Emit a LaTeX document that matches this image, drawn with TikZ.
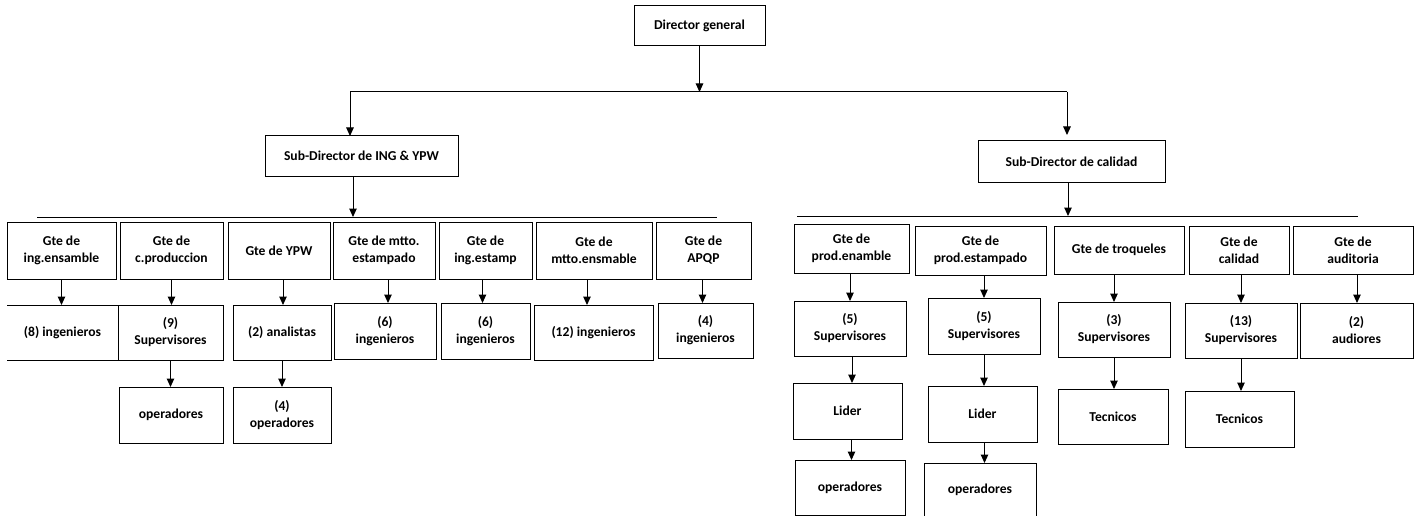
\documentclass[tikz,border=0pt]{standalone}
\usepackage{fontspec}
\setmainfont{Carlito}
\usetikzlibrary{arrows.meta}
\tikzset{
  box/.style={draw, line width=1pt, inner sep=0pt, outer sep=0pt, align=center,
    font=\bfseries\fontsize{13.6}{17}\selectfont},
  arr/.style={line width=1pt, -{Triangle[width=7.5pt,length=8.5pt]}},
  bar/.style={line width=1pt}
}
% \orgbox{name}{x1}{y1}{x2}{y2}{text}: box given by its corners (y measured downwards)
\newcommand\orgbox[7][]{%
  \node[box,#1,minimum width={#5-#3},minimum height={#6-#4}]
    (#2) at ({(#3+#5)/2},{-(#4+#6)/2}) {#7};}
\begin{document}
\begin{tikzpicture}[x=1pt,y=1pt]
\useasboundingbox (0,0) rectangle (1416,-516);

% top levels
\orgbox{DG}{634}{6}{765}{46}{Director general}
\orgbox{SDA}{265}{136}{458}{176}{Sub-Director de ING \& YPW}
\orgbox{SDB}{978}{141}{1165}{182}{Sub-Director de calidad}

\coordinate (jL) at (350,-92);
\coordinate (jR) at (1067,-92);
\draw[arr] (DG.south) -- (DG.south |- jL);
\draw[bar] (jL) -- (jR);
\draw[arr] (jL) -- (jL |- SDA.north);
\draw[arr, shorten >=6pt] (jR) -- (jR |- SDB.north);

% distribution bars
\coordinate (bAL) at (37,-217);
\coordinate (bAR) at (717,-217);
\coordinate (bAs) at (353,-217);
\coordinate (bBL) at (797,-216);
\coordinate (bBR) at (1358,-216);
\coordinate (bBs) at (1068,-216);
\draw[bar] (bAL) -- (bAR);
\draw[bar] (bBL) -- (bBR);
\draw[arr] (bAs |- SDA.south) -- (bAs);
\draw[arr] (bBs |- SDB.south) -- (bBs);

% left branch: managers
\orgbox{L1}{7}{222}{116}{279}{Gte de\\ing.ensamble}
\orgbox{L2}{120}{222}{223}{279}{Gte de\\c.produccion}
\orgbox{L3}{228}{222}{330}{279}{Gte de YPW}
\orgbox{L4}{333}{222}{435}{279}{Gte de mtto.\\estampado}
\orgbox{L5}{439}{222}{532}{279}{Gte de\\ing.estamp}
\orgbox{L6}{536}{222}{652}{279}{Gte de\\mtto.ensmable}
\orgbox{L7}{656}{222}{751}{279}{Gte de\\APQP}

% left branch: staff
\orgbox[draw=none]{M1}{7}{305}{118}{360}{(8) ingenieros}
\draw[bar] (M1.north west) -- (M1.north east);
\draw[bar] (M1.south west) -- (M1.south east);
\orgbox{M2}{118}{305}{223}{360}{(9)\\Supervisores}
\orgbox{M3}{233}{305}{331}{360}{(2) analistas}
\orgbox{M4}{334}{303}{436}{359}{(6)\\ingenieros}
\orgbox{M5}{441}{303}{530}{359}{(6)\\ingenieros}
\orgbox{M6}{534}{305}{653}{360}{(12) ingenieros}
\orgbox{M7}{658}{303}{753}{358}{(4)\\ingenieros}

\orgbox{N2}{119}{387}{223}{443}{operadores}
\orgbox{N3}{233}{387}{331}{443}{(4)\\operadores}

\draw[arr] (L1.south) -- (L1.south |- M1.north);
\draw[arr] (L2.south) -- (L2.south |- M2.north);
\draw[arr] ([xshift=4pt]L3.south) -- ([xshift=4pt]L3.south |- M3.north);
\draw[arr] ([xshift=4pt]L4.south) -- ([xshift=4pt]L4.south |- M4.north);
\draw[arr] ([xshift=-3pt]L5.south) -- ([xshift=-3pt]L5.south |- M5.north);
\draw[arr] ([xshift=-7pt]L6.south) -- ([xshift=-7pt]L6.south |- M6.north);
\draw[arr] ([xshift=-1pt]L7.south) -- ([xshift=-1pt]L7.south |- M7.north);
\draw[arr] (M2.south) -- (M2.south |- N2.north);
\draw[arr] (M3.south) -- (M3.south |- N3.north);

% right branch: managers
\orgbox{P1}{794}{224}{909}{273}{Gte de\\prod.enamble}
\orgbox{P2}{915}{226}{1046}{275}{Gte de\\prod.estampado}
\orgbox{P3}{1054}{226}{1184}{274}{Gte de troqueles}
\orgbox{P4}{1189}{226}{1289}{274}{Gte de\\calidad}
\orgbox{P5}{1293}{226}{1413}{274}{Gte de\\auditoria}

% right branch: staff
\orgbox{Q1}{794}{301}{906}{356}{(5)\\Supervisores}
\orgbox{Q2}{928}{298}{1040}{354}{(5)\\Supervisores}
\orgbox{Q3}{1058}{302}{1170}{357}{(3)\\Supervisores}
\orgbox{Q4}{1185}{303}{1297}{358}{(13)\\Supervisores}
\orgbox{Q5}{1300}{303}{1413}{358}{(2)\\audiores}

\orgbox{R1}{793}{383}{902}{439}{Lider}
\orgbox{R2}{928}{386}{1037}{442}{Lider}
\orgbox{R3}{1058}{389}{1168}{444}{Tecnicos}
\orgbox{R4}{1185}{391}{1294}{447}{Tecnicos}

\orgbox{S1}{795}{460}{905}{515}{operadores}
\orgbox{S2}{924}{463}{1036}{517}{operadores}

\draw[arr] (Q1.north |- P1.south) -- (Q1.north);
\draw[arr] (Q2.north |- P2.south) -- (Q2.north);
\draw[arr] (Q3.north |- P3.south) -- (Q3.north);
\draw[arr] (Q4.north |- P4.south) -- (Q4.north);
\draw[arr] ([xshift=4pt]P5.south) -- ([xshift=4pt]P5.south |- Q5.north);
\draw[arr] ([xshift=2pt]Q1.south) -- ([xshift=2pt]Q1.south |- R1.north);
\draw[arr] (Q2.south) -- (Q2.south |- R2.north);
\draw[arr] (Q3.south) -- (Q3.south |- R3.north);
\draw[arr] (Q4.south) -- (Q4.south |- R4.north);
\draw[arr] ([xshift=4pt]R1.south) -- ([xshift=4pt]R1.south |- S1.north);
\draw[arr] ([xshift=2pt]R2.south) -- ([xshift=2pt]R2.south |- S2.north);
\end{tikzpicture}
\end{document}
